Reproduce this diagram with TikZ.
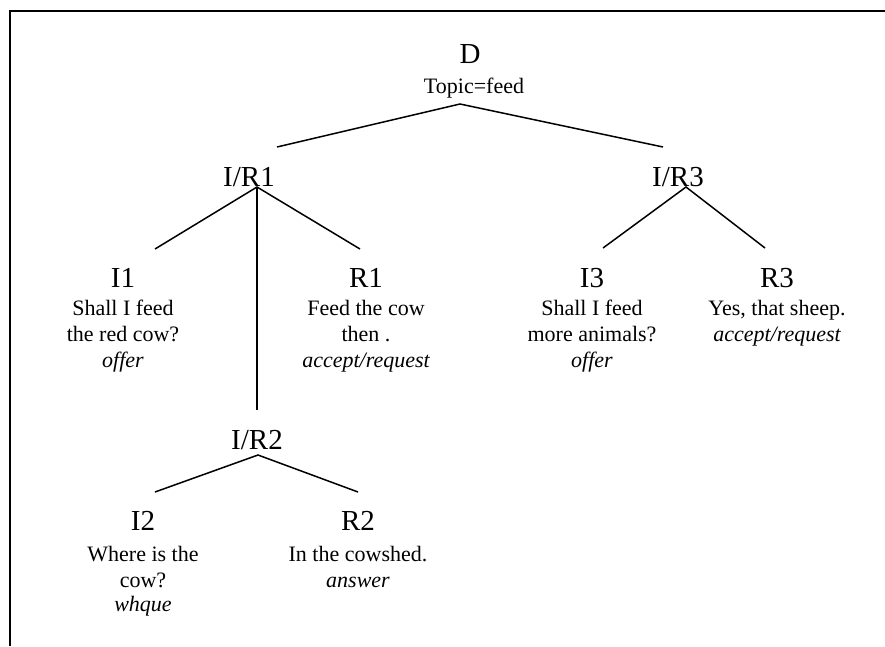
\documentclass[tikz,border=0pt]{standalone}
\usepackage{fontspec}
\setmainfont{Liberation Serif}
\begin{document}
\begin{tikzpicture}[x=1pt,y=-1pt,
  big/.style={anchor=base,inner sep=0pt,font=\fontsize{29}{29}\selectfont},
  small/.style={anchor=base,inner sep=0pt,font=\fontsize{22}{26}\selectfont},
  role/.style={anchor=base,inner sep=0pt,font=\fontsize{22}{26}\selectfont\itshape},
  edge/.style={line width=1.5pt},
  frame/.style={line width=2pt}]
\useasboundingbox (0,0) rectangle (885,646);
% frame (only top and left edges visible)
\draw[frame] (9.5,646) -- (9.5,10.5) -- (885,10.5);

% root
\node[big]   (D)  at (470,63) {D};
\node[small] (Dt) at (474,93) {Topic=feed};

% level 1
\node[big] (IR1) at (249,186) {I/R1};
\node[big] (IR3) at (678,186) {I/R3};

% I1
\node[big]   (I1)  at (123,287) {I1};
\node[small] (I1a) at (123,315) {Shall I feed};
\node[small] (I1b) at (123,341) {the red cow?};
\node[role]  (I1c) at (123,367) {offer};

% R1
\node[big]   (R1)  at (366,287) {R1};
\node[small] (R1a) at (366,315) {Feed the cow};
\node[small] (R1b) at (366,341) {then .};
\node[role]  (R1c) at (366,367) {accept/request};

% I3
\node[big]   (I3)  at (592,287) {I3};
\node[small] (I3a) at (592,315) {Shall I feed};
\node[small] (I3b) at (592,341) {more animals?};
\node[role]  (I3c) at (592,367) {offer};

% R3
\node[big]   (R3)  at (777,287) {R3};
\node[small] (R3a) at (777,315) {Yes, that sheep.};
\node[role]  (R3b) at (777,341) {accept/request};

% I/R2
\node[big] (IR2) at (257,449) {I/R2};

% I2
\node[big]   (I2)  at (143,530) {I2};
\node[small] (I2a) at (143,561) {Where is the};
\node[small] (I2b) at (143,587) {cow?};
\node[role]  (I2c) at (143,611) {whque};

% R2
\node[big]   (R2)  at (358,530) {R2};
\node[small] (R2a) at (358,561) {In the cowshed.};
\node[role]  (R2b) at (358,587) {answer};

% connector end points
\coordinate (dApex) at (460,104);
\coordinate (dL) at (277,147);
\coordinate (dR) at (663,147);
\coordinate (ir1Apex) at (257,187);
\coordinate (ir1L) at (155,249);
\coordinate (ir1R) at (360,249);
\coordinate (ir1D) at (257,410);
\coordinate (ir3Apex) at (686,187);
\coordinate (ir3L) at (603,248);
\coordinate (ir3R) at (765,248);
\coordinate (ir2Apex) at (258,455);
\coordinate (ir2L) at (155,492);
\coordinate (ir2R) at (358,492);

\draw[edge] (dL) -- (dApex) -- (dR);
\draw[edge] (ir1L) -- (ir1Apex) -- (ir1R);
\draw[edge] (ir1Apex) -- (ir1D);
\draw[edge] (ir3L) -- (ir3Apex) -- (ir3R);
\draw[edge] (ir2L) -- (ir2Apex) -- (ir2R);
\end{tikzpicture}
\end{document}
